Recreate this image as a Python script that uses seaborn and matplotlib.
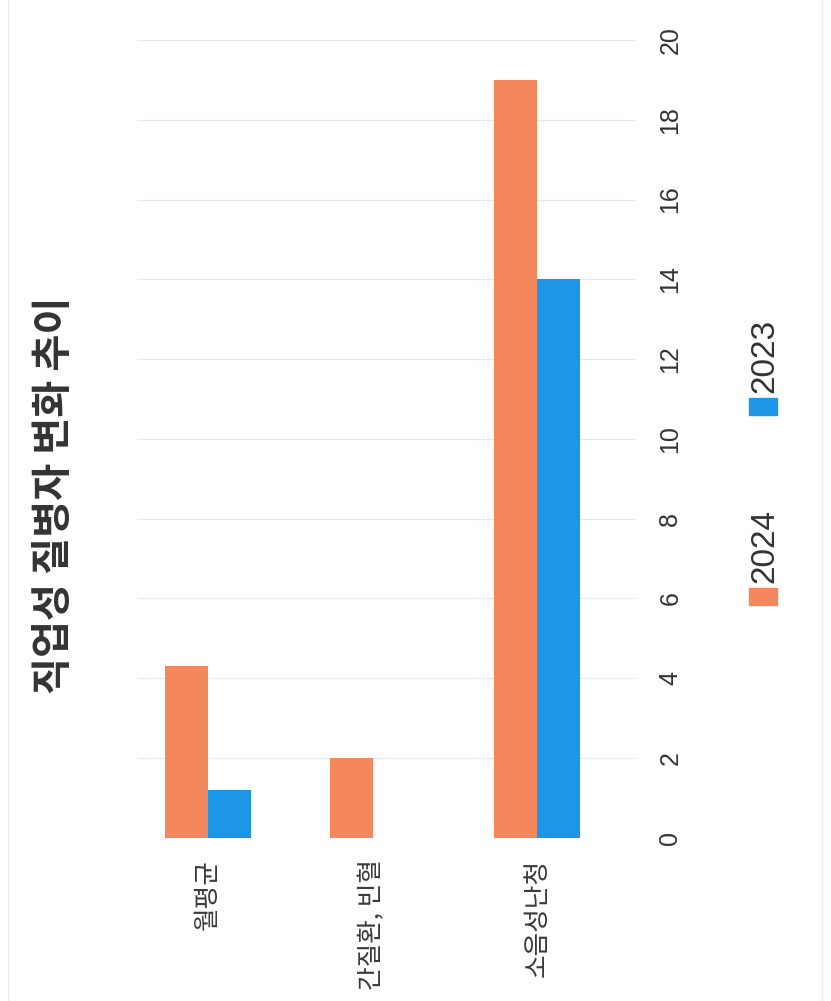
import pandas as pd
import seaborn as sns
import matplotlib.pyplot as plt
from matplotlib import font_manager
from matplotlib.patches import Rectangle
from matplotlib.lines import Line2D

categories = ["월평균", "간질환, 빈혈", "소음성난청"]
years = ["2024", "2023"]
values_2024 = [4.3, 2.0, 19.0]
values_2023 = [1.2, 0.0, 14.0]
y_ticks = list(range(0, 21, 2))
colors = ["#F5875C", "#1C97E8"]

df = pd.DataFrame({
    "category": categories * 2,
    "year": ["2024"] * 3 + ["2023"] * 3,
    "value": values_2024 + values_2023,
})

sns.set_style("white")
kr = ["Noto Sans CJK KR", "DejaVu Sans"]
names = {f.name for f in font_manager.fontManager.ttflist}
narrow = "Liberation Sans Narrow" if "Liberation Sans Narrow" in names else "Liberation Sans"
plt.rcParams["font.family"] = kr

fig = plt.figure(figsize=(8.31, 10.01), dpi=100)
ax = fig.add_axes([0.165, 0.163, 0.6005, 0.797])

sns.barplot(data=df, x="category", y="value", hue="year", hue_order=years,
            palette=colors, width=0.52, saturation=1, legend=False,
            linewidth=0, ax=ax)

ax.set_xlim(-0.43, 2.6)
ax.set_ylim(0, 20)
ax.set_yticks(y_ticks)
ax.yaxis.tick_right()
ax.set_yticklabels([str(t) for t in y_ticks], rotation=90, va="center", ha="left",
                   family=narrow, fontsize=18, color="#333333")
ax.tick_params(axis="y", length=0, pad=16)
ax.set_xticks(range(len(categories)))
ax.set_xticklabels(categories, rotation=90, va="top", ha="center",
                   fontsize=18.5, color="#3a3a3a")
ax.tick_params(axis="x", length=0, pad=15)
ax.set_xlabel("")
ax.set_ylabel("")
ax.grid(axis="y", color="#e2eaef", linewidth=0.9)
ax.set_axisbelow(True)
for s in ax.spines.values():
    s.set_visible(False)

fig.text(0.066, 0.5055, "직업성 질병자 변화 추이", rotation=90, ha="center", va="center",
         fontsize=29, fontweight="bold", color="#333333")

# legend, drawn rotated like the rest of the chart
W, H = 831, 1001
for (yr, col, y0) in [("2024", colors[0], 605), ("2023", colors[1], 415)]:
    fig.add_artist(Rectangle((749 / W, 1 - y0 / H), 28 / W, 17 / H,
                             transform=fig.transFigure, color=col))
    fig.text(765 / W, 1 - (y0 - 22) / H, yr, rotation=90, ha="center", va="bottom",
             family=narrow, fontsize=24, color="#333333")

# faint page edges of the scan
for xp in (8, 822):
    fig.add_artist(Line2D([xp / W, xp / W], [0, 1], transform=fig.transFigure,
                          color="#e4edf1", linewidth=1))

fig.savefig("out.png", dpi=100, facecolor="white")
